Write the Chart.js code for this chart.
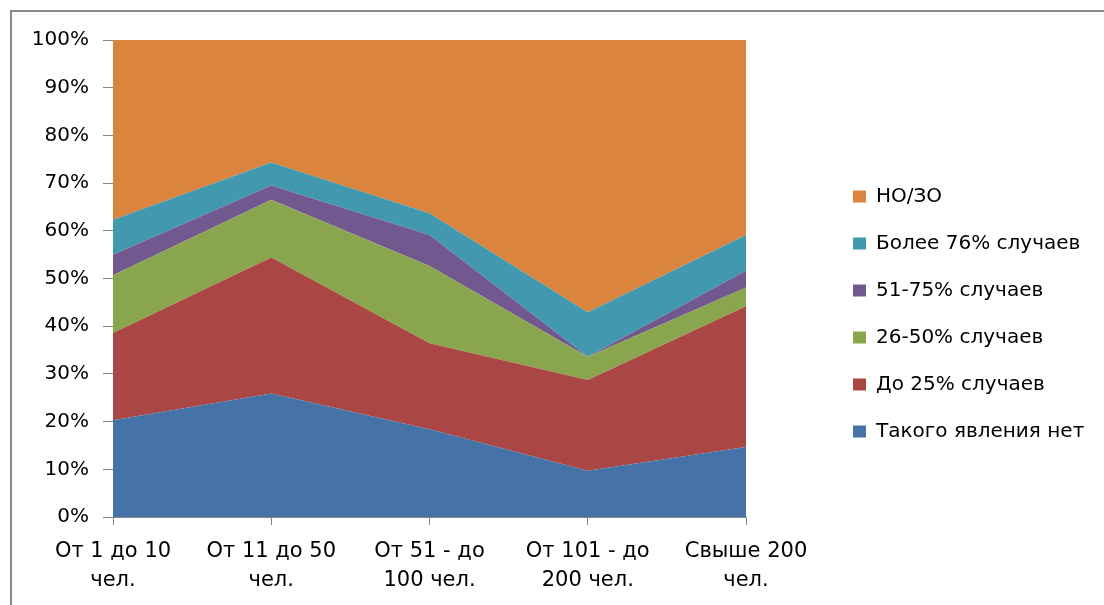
<!DOCTYPE html>
<html>
<head>
<meta charset="utf-8">
<script src="https://cdn.jsdelivr.net/npm/chart.js@4.4.1/dist/chart.umd.min.js"></script>
<style>
  html, body { margin: 0; padding: 0; background: #fff; }
  #wrap  { position: relative; width: 1104px; height: 605px; overflow: hidden; }
  #frame { position: absolute; left: 10px; top: 10px; width: 1200px; height: 700px;
           border-left: 2px solid #8a8a8a; border-top: 2px solid #8a8a8a; }
  canvas { position: absolute; left: 0; top: 0; }
</style>
</head>
<body>
<div id="wrap">
  <div id="frame"></div>
  <canvas id="chart" width="1104" height="605"></canvas>
</div>
<script>
// ── Data (percent of respondents by organisation size) ─────
const categories = [
  ['От 1 до 10', 'чел.'],
  ['От 11 до 50', 'чел.'],
  ['От 51 - до', '100 чел.'],
  ['От 101 - до', '200 чел.'],
  ['Свыше 200', 'чел.'],
];
const seriesNames = [
  'Такого явления нет',
  'До 25% случаев',
  '26-50% случаев',
  '51-75% случаев',
  'Более 76% случаев',
  'НО/ЗО',
];
const noneValues   = [20.3, 25.9, 18.4,  9.7, 14.7];
const upTo25Values = [18.3, 28.5, 18.0, 19.0, 29.5];
const to50Values   = [12.1, 12.1, 16.2,  4.9,  3.9];
const to75Values   = [ 4.3,  3.0,  6.5,  0.0,  3.5];
const over76Values = [ 7.3,  4.8,  4.6,  9.3,  7.5];
const noAnsValues  = [37.7, 25.7, 36.3, 57.1, 40.9];

const seriesColors = ['#4572A7', '#AA4643', '#89A54E', '#71588F', '#4198AF', '#DB843D'];
const seriesValues = [noneValues, upTo25Values, to50Values, to75Values, over76Values, noAnsValues];

// ── Chart.js defaults ──────────────────────────────────────
Chart.defaults.font.family = "'DejaVu Sans', sans-serif";
Chart.defaults.color = '#000';

const axisGrey = '#868686';

// Legend sits to the right of the plot, like the Excel original
const legendPlace = {
  id: 'legendPlace',
  afterInit(chart) {
    const lg = chart.legend;
    const fit = lg.fit;
    lg.fit = function () { fit.call(this); this.width = 1104 - 746; };
  },
  afterLayout(chart) {
    const lg = chart.legend;
    lg.left = 853 - lg.options.labels.padding;
    lg.top = 54;
    lg.bottom = 574;
  },
};

const datasets = seriesValues.map((vals, i) => ({
  label: seriesNames[i],
  data: vals,
  backgroundColor: seriesColors[i],
  borderColor: seriesColors[i],
  borderWidth: 0,
  pointRadius: 0,
  tension: 0,
  fill: i === 0 ? 'origin' : '-1',
}));

new Chart(document.getElementById('chart'), {
  type: 'line',
  data: { labels: categories, datasets },
  plugins: [legendPlace],
  options: {
    responsive: false,
    animation: false,
    devicePixelRatio: 1,
    layout: { padding: { top: 40, left: 0, right: 0, bottom: 0 } },
    plugins: {
      tooltip: { enabled: false },
      legend: {
        position: 'right',
        reverse: true,
        labels: {
          boxWidth: 13,
          boxHeight: 12,
          padding: 27,
          color: '#000',
          font: { size: 20 },
        },
      },
    },
    scales: {
      x: {
        offset: false,
        afterFit: (s) => { s.height = 605 - 517; },
        grid: { drawOnChartArea: false, drawTicks: true, tickLength: 8, color: axisGrey },
        border: { display: true, color: axisGrey, width: 1 },
        ticks: { color: '#000', padding: 12, maxRotation: 0, autoSkip: false,
                 font: { size: 21, lineHeight: 1.38 } },
      },
      y: {
        stacked: true,
        min: 0,
        max: 100,
        afterFit: (s) => { s.width = 113; },
        grid: { drawOnChartArea: false, drawTicks: true, tickLength: 10, color: axisGrey },
        border: { display: true, color: axisGrey, width: 1 },
        ticks: { color: '#000', stepSize: 10, padding: 14, font: { size: 20 },
                 callback: (v) => v + '%' },
      },
    },
  },
});
</script>
</body>
</html>
